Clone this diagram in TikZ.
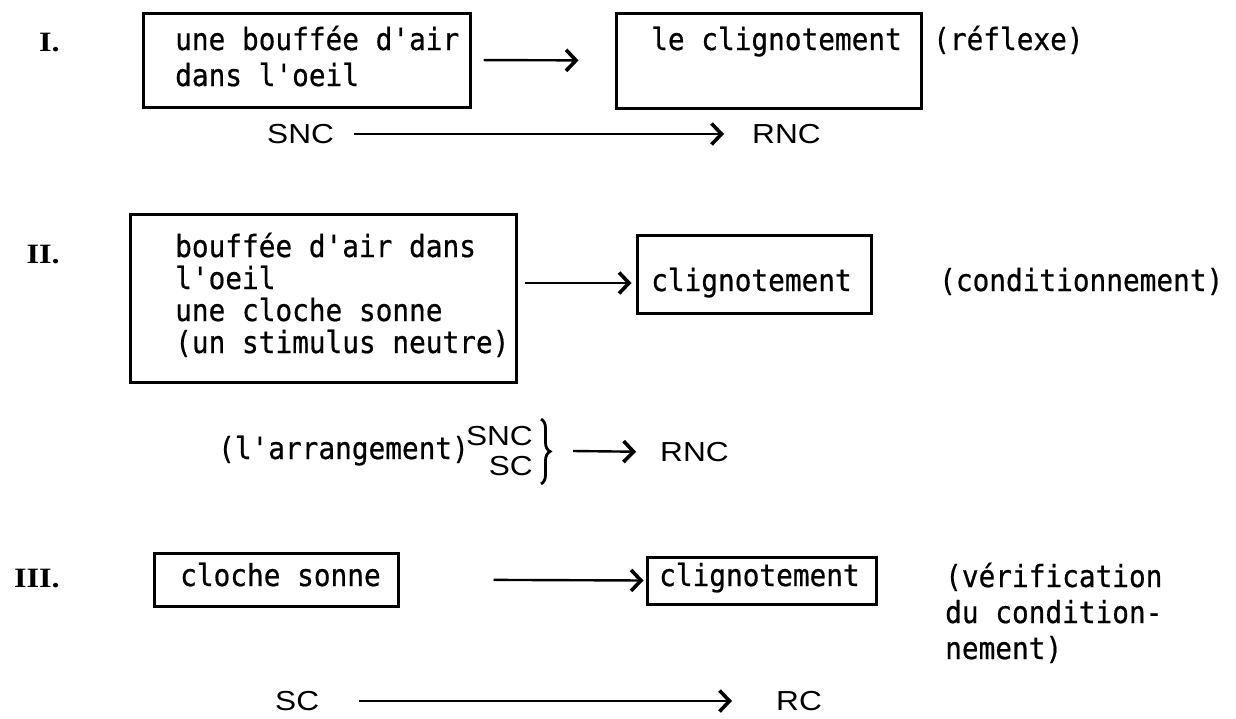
\documentclass[tikz,border=0pt]{standalone}
\usepackage{fontspec}
\newfontfamily\twfont[FakeStretch=0.91,FakeBold=0.6,Ligatures=TeXOff]{DejaVu Sans Mono}
\newfontfamily\labfont[FakeStretch=1.15]{Liberation Sans}
\newfontfamily\romfont[FakeStretch=1.15]{Liberation Serif}
\usetikzlibrary{arrows.meta,calc,decorations.pathreplacing}
\begin{document}
\begin{tikzpicture}[x=1pt,y=-1pt,
  box/.style={draw, line width=3pt, inner sep=0pt},
  txt/.style={anchor=base west, inner sep=0pt, font=\twfont\fontsize{30.5}{36}\selectfont},
  lbl/.style={inner sep=0pt, anchor=west, font=\labfont\fontsize{27.5}{30}\selectfont},
  romnum/.style={anchor=base east, inner sep=0pt, font=\romfont\bfseries\fontsize{28}{32}\selectfont},
  arr/.style={line width=2.4pt, -{Straight Barb[length=10pt,width=21pt,line width=3.6pt]}},
  arrthin/.style={line width=1.8pt, -{Straight Barb[length=10pt,width=21pt,line width=3.6pt]}},
  bracestyle/.style={line width=2.8pt, decorate, decoration={brace, amplitude=9pt}},
]
\useasboundingbox (0,0) rectangle (1236,718);
% numerals
\node[romnum] (n1) at (60,51) {I.};
\node[romnum] (n2) at (60,263) {II.};
\node[romnum] (n3) at (60,587) {III.};
% row I
\node[box, minimum width=327pt, minimum height=94pt] (b1) at (306.5,60) {};
\node[txt] (t1a) at (175,50) {une bouffée d'air};
\node[txt] (t1b) at (175,86) {dans l'oeil};
\node[box, minimum width=305pt, minimum height=95pt] (b2) at (768.5,60.5) {};
\node[txt] (t2) at (651,50) {le clignotement};
\node[txt] (r1) at (933,50) {(réflexe)};
\draw[arr, shorten <=12pt, shorten >=36pt] (b1.east) -- (b2.west);
\node[lbl] (snc1) at (267,134) {SNC};
\node[lbl] (rnc1) at (752,134) {RNC};
\draw[arrthin, shorten <=20pt, shorten >=28pt] (snc1.east) -- (rnc1.west);
% row II
\node[box, minimum width=386pt, minimum height=168pt] (b3) at (323,298) {};
\node[txt] (t3a) at (175,257) {bouffée d'air dans};
\node[txt] (t3b) at (175,289) {l'oeil};
\node[txt] (t3c) at (175,321) {une cloche sonne};
\node[txt] (t3d) at (175,353) {(un stimulus neutre)};
\node[box, minimum width=234pt, minimum height=78pt] (b4) at (754,274) {};
\node[txt] (t4) at (651,291) {clignotement};
\node[txt] (r2) at (939,291) {(conditionnement)};
\draw[arr] ($(b3.east)+(7,-15)$) -- ($(b4.west)+(-4,9)$);
\node[txt] (arrg) at (218,459) {(l'arrangement)};
\node[lbl, anchor=east] (snc2) at (533,436) {SNC};
\node[lbl, anchor=east] (sc2) at (533,466) {SC};
\draw[bracestyle] ($(snc2.north east)+(8,-7)$) -- ($(sc2.south east)+(8,8)$);
\coordinate (brt) at ($(snc2.east)!0.5!(sc2.east)+(40,0)$);
\node[lbl] (rnc2) at (660,452) {RNC};
\draw[arr, shorten >=24pt] (brt) -- (rnc2.west);
% row III
\node[box, minimum width=244pt, minimum height=53pt] (b5) at (276,579.5) {};
\node[txt] (t5) at (180,586) {cloche sonne};
\node[box, minimum width=229pt, minimum height=47pt] (b6) at (761.5,580.5) {};
\node[txt] (t6) at (659,586) {clignotement};
\draw[arr, shorten <=94pt, shorten >=2pt] (b5.east) -- (b6.west);
\node[txt] (r3a) at (945,587) {(vérification};
\node[txt] (r3b) at (945,623) {du condition-};
\node[txt] (r3c) at (945,659) {nement)};
\node[lbl] (sc3) at (275,701) {SC};
\node[lbl] (rc3) at (776,701) {RC};
\draw[arrthin, shorten <=40pt, shorten >=44pt] (sc3.east) -- (rc3.west);
\end{tikzpicture}
\end{document}
